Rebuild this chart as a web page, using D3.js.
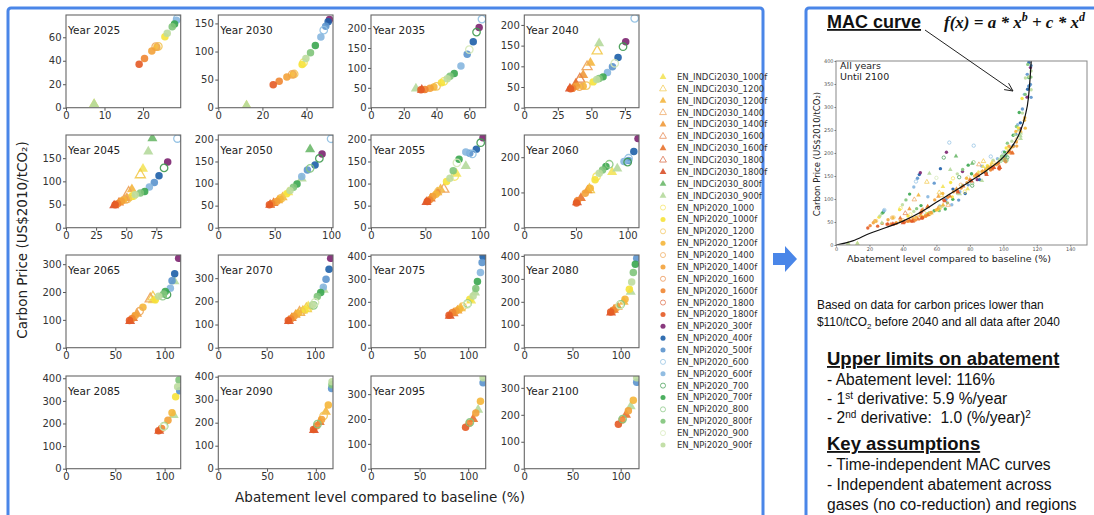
<!DOCTYPE html>
<html>
<head>
<meta charset="utf-8">
<script src="https://cdn.jsdelivr.net/npm/d3@7"></script>
<style>
  body { margin: 0; background: #fff; }
  svg { display: block; }
  text { white-space: pre; }
</style>
</head>
<body>
<div id="chart"></div>
<script>
const w = 1094;
const h = 515;

// panels, one per year
const years = [2025, 2030, 2035, 2040, 2045, 2050, 2055, 2060,
               2065, 2070, 2075, 2080, 2085, 2090, 2095, 2100];
const xMax = [29.8, 52, 70, 85.5, 95.2, 101.7, 105.5, 111,
              116.3, 118.6, 118, 119, 116.3, 117.6, 118, 119];
const yMax = [79, 165, 233, 224, 200, 210, 210, 263,
              333, 400, 404, 404, 410, 403, 373, 344];
const xTicks = [[0, 10, 20], [0, 20, 40], [0, 20, 40, 60], [0, 25, 50, 75],
                [0, 25, 50, 75], [0, 50, 100], [0, 50, 100], [0, 50, 100],
                [0, 50, 100], [0, 50, 100], [0, 50, 100], [0, 50, 100],
                [0, 50, 100], [0, 50, 100], [0, 50, 100], [0, 50, 100]];
const yTicks = [[0, 20, 40, 60], [0, 50, 100, 150], [0, 50, 100, 150, 200], [0, 50, 100, 150, 200],
                [0, 50, 100, 150], [0, 50, 100, 150, 200], [0, 50, 100, 150, 200], [0, 100, 200],
                [0, 100, 200, 300], [0, 100, 200, 300], [0, 100, 200, 300, 400], [0, 100, 200, 300, 400],
                [0, 100, 200, 300, 400], [0, 100, 200, 300, 400], [0, 100, 200, 300], [0, 100, 200, 300]];

// scenarios in legend order (I = EN_INDCi2030_, N = EN_NPi2020_)
const scenarioCodes = ['I1000f', 'I1200', 'I1200f', 'I1400', 'I1400f', 'I1600', 'I1600f', 'I1800', 'I1800f',
  'I800f', 'I900f', 'N1000', 'N1000f', 'N1200', 'N1200f', 'N1400', 'N1400f', 'N1600', 'N1600f',
  'N1800', 'N1800f', 'N300f', 'N400f', 'N500f', 'N600', 'N600f', 'N700', 'N700f', 'N800', 'N800f',
  'N900', 'N900f'];
const scenarioColors = ['#f3e35a', '#f2c94c', '#f4b63f', '#eda35a', '#f0993a', '#e58046', '#e8722d', '#d6653e', '#d9502a',
  '#6cb86a', '#b5d99c', '#f5e35f', '#f6e23a', '#f2c55a', '#f5b63a', '#eeaa5c', '#f3a23a', '#ec8e4a', '#ef8632',
  '#de6a45', '#e45a25', '#7c2470', '#1d5fa8', '#5b94cd', '#8ebfe2', '#86b6df', '#3f9a4f', '#3aa64f', '#86c680', '#80c47a',
  '#d5e9b8', '#bcdc9f'];

// [scenario, abatement %, carbon price]
const pts2025 = [['I1000f', 7.3, 3], ['I900f', 7.3, 3],
  ['N1800f', 19, 37], ['N1600f', 20.4, 42], ['N1400f', 22.3, 48.3], ['N1200f', 23.6, 51.5], ['N1400', 23.3, 52], ['N1200', 24, 52.3],
  ['N1000f', 25.7, 60.5], ['N900f', 26.3, 63.4], ['N800f', 27.6, 69], ['N700f', 28.2, 71.4], ['N600f', 28.7, 74.5], ['N600', 28.9, 76]];
const pts2030 = [['I1000f', 12.8, 3.6], ['I900f', 12.8, 3.6],
  ['N1800f', 24.9, 41], ['N1600f', 27.6, 47], ['N1400f', 31.1, 54.8], ['N1400', 33.5, 59.5], ['N1200f', 34, 59], ['N1200', 34.4, 60],
  ['N1000f', 38, 76.8], ['N1000', 38.6, 80], ['N900f', 39.7, 87.5], ['N800f', 41.8, 98], ['N700f', 44, 110.7], ['N600f', 46.5, 126],
  ['N600', 47.8, 138], ['N500f', 48.7, 145], ['N400f', 49.8, 153], ['N300f', 50.4, 157]];
const pts2035 = [['I900f', 27.4, 47.9], ['I1800f', 31, 45],
  ['N1800f', 30.5, 45.4], ['N1600f', 32.9, 46], ['N1400f', 36, 48.7], ['N1200f', 38.4, 52], ['N1200', 40, 53.8],
  ['N1000f', 43, 63], ['N1000', 44.5, 66.4], ['N900f', 46.5, 73], ['N800f', 48.2, 79], ['N700f', 50.8, 85.7], ['N600f', 54.9, 105],
  ['N500f', 58.7, 134.5], ['N900', 60, 146], ['N400f', 62.4, 166], ['N700', 64.4, 190], ['N300f', 66, 201.7], ['N600', 67.7, 222.7]];
const pts2040 = [['I1800f', 34, 46], ['I1600f', 38.4, 58.3], ['I1600', 41.4, 68.9], ['I1400f', 43.9, 78.6], ['I1400', 46.8, 98.8],
  ['I1200f', 49.3, 108.5], ['I1200', 54.3, 137], ['I900f', 55.8, 155.5],
  ['N1800f', 34.5, 45.5], ['N1600f', 36, 47], ['N1400f', 38.9, 51.8], ['N1400', 41, 51], ['N1200f', 43.9, 51.8], ['N1200', 46.3, 53.5],
  ['N1000f', 51.3, 62.4], ['N900f', 54, 68], ['N800f', 55.8, 70.5], ['N700f', 58.7, 74.5], ['N600f', 62, 85], ['N500f', 65.7, 98.8],
  ['N900', 67.4, 107], ['N400f', 69.9, 121.5], ['N700', 73.6, 147.4], ['N300f', 75.6, 159.6], ['N600', 82.3, 216]];
const pts2045 = [['I1800f', 40, 48], ['I1600f', 44, 54], ['I1400f', 50.5, 64], ['I1400', 52, 76], ['I1200f', 54.7, 83],
  ['I1200', 61.7, 114], ['I1000f', 63.9, 127], ['I900f', 68.3, 164], ['I800f', 71.7, 193],
  ['N1800f', 40.8, 49.5], ['N1600f', 42.8, 51.7], ['N1400f', 46, 57], ['N1200f', 47.8, 60.3], ['N1400', 49.5, 61], ['N1200', 51, 62],
  ['N1000f', 54.7, 67.5], ['N1000', 56, 69], ['N900f', 57.5, 71], ['N800f', 61.7, 74.7], ['N700f', 65.3, 78.2], ['N600f', 69.2, 87.6],
  ['N500f', 73.3, 97.6], ['N400f', 77.2, 112], ['N700', 81.4, 129], ['N300f', 84.4, 142], ['N600', 92.5, 192.4]];
const pts2050 = [['I1800f', 46, 52], ['I1600f', 49, 56], ['I1400f', 53, 62], ['I1200f', 57, 69], ['I1000f', 62, 80],
  ['I900f', 74, 111], ['I800f', 81.4, 177.4],
  ['N1800f', 45.3, 51.9], ['N1600f', 47.3, 54], ['N1400f', 51.8, 59.4], ['N1200f', 54.7, 64.7], ['N1200', 56, 67], ['N1000f', 60.7, 76.7],
  ['N900f', 63.6, 84], ['N800f', 66.6, 91.7], ['N700f', 69.8, 99.2], ['N600f', 74, 115.8], ['N500f', 79, 130.8], ['N800', 81.4, 134.6],
  ['N400f', 85.8, 142], ['N700', 89.6, 157], ['N300f', 92, 167], ['N600', 100, 201.5]];
const pts2055 = [['I1800f', 51, 58], ['I1600f', 55, 66], ['I1400f', 61, 80], ['I1200f', 64, 87], ['I1400', 67, 87],
  ['I1000f', 78.7, 122], ['I900f', 87.2, 139.8],
  ['N1800f', 51.8, 59.4], ['N1600f', 53.7, 63], ['N1400f', 56.8, 70.7], ['N1200f', 59.8, 76], ['N1200', 62, 82],
  ['N1000f', 69.5, 104.5], ['N900f', 72.6, 112], ['N1000', 77, 116], ['N800f', 75.6, 129], ['N900', 79, 147], ['N700f', 81, 155],
  ['N600f', 87.2, 171.4], ['N500f', 90.8, 168.4], ['N600', 93.2, 167], ['N400f', 96.9, 178], ['N700', 100.9, 192.5], ['N300f', 103, 203.7]];
const pts2060 = [['I1800f', 51, 72], ['I1600f', 54.8, 84], ['I1400f', 61.2, 105.7], ['I1200', 63, 108],
  ['I1000f', 85, 158], ['I900f', 90, 168],
  ['N1800f', 50.5, 69.8], ['N1600f', 51.5, 76.4], ['N1400f', 59, 98], ['N1200f', 63.8, 112], ['N1000f', 68.5, 136], ['N1000', 69.9, 145],
  ['N900f', 72.5, 154.7], ['N800f', 75.7, 164], ['N700f', 79, 173.6], ['N800', 82.2, 180], ['N600f', 96.5, 187.7],
  ['N700', 100, 186], ['N500f', 100.9, 190.6], ['N600', 100.9, 197], ['N400f', 106, 216], ['N300f', 110, 252.8]];
const pts2065 = [['I1800f', 65, 96], ['I1600f', 68, 106], ['I1400f', 72, 122], ['I1400', 85.4, 175], ['I1200', 88.1, 182],
  ['I1000f', 88, 170], ['I900f', 110, 238],
  ['N1800f', 64.4, 97.6], ['N1600f', 66.8, 103.6], ['N1400f', 70.2, 115.5], ['N1400', 74.6, 131], ['N1200f', 78, 145],
  ['N1000f', 90.5, 172.6], ['N900f', 93.9, 184.5], ['N800', 98, 185], ['N800f', 99, 193], ['N700f', 100.7, 202], ['N700', 102.4, 190.5],
  ['N600f', 105.8, 214], ['N500f', 107.5, 240.5], ['N400f', 110.2, 265.5], ['N300f', 114.2, 321.4]];
const pts2070 = [['I1800f', 73, 115], ['I1600f', 76, 128], ['I1400f', 80, 142], ['I1400', 84, 152], ['I1200f', 87.5, 160],
  ['I1200', 91, 168], ['I1000f', 93, 178.6], ['I900f', 109, 250],
  ['N1800f', 72.4, 117], ['N1600f', 74.8, 124], ['N1400f', 78.3, 135.7], ['N1200f', 82.8, 150], ['N1200', 86.2, 157],
  ['N1000f', 89.7, 164], ['N1000', 94, 175], ['N900f', 97.6, 185.7], ['N800', 98.5, 183], ['N900', 100, 195.7],
  ['N800f', 102.4, 221.4], ['N700f', 105.9, 238.6], ['N600f', 108.6, 261.4], ['N500f', 111.4, 295.7], ['N400f', 114.5, 338.6],
  ['N300f', 116.2, 385.7]];
const pts2075 = [['I1800f', 81, 139], ['I1600f', 85, 150], ['I1400f', 89, 162], ['I1200f', 92.5, 172], ['I1000f', 103, 205],
  ['I900f', 107, 240],
  ['N1800f', 80.3, 141], ['N1600f', 84, 153], ['N1400f', 87.4, 160], ['N1200f', 90.8, 167.5], ['N1200', 94.2, 179],
  ['N900', 99, 189], ['N800', 99.3, 192], ['N1000f', 101.7, 211], ['N900f', 105.1, 225.6], ['N800f', 107.8, 257.6],
  ['N700f', 109.5, 288], ['N600f', 112.6, 327.5], ['N500f', 114.3, 371], ['N400f', 115.3, 397]];
const pts2080 = [['I1800f', 90, 153], ['I1600f', 93, 165], ['I1400f', 97, 178], ['I1200f', 103, 200], ['I900f', 110.4, 243],
  ['N1800f', 89.6, 155.7], ['N1600f', 92.4, 163], ['N1400f', 95.8, 174.7], ['N900', 99, 186], ['N800', 100, 189],
  ['N1200f', 104.5, 211], ['N1000f', 109, 254.7], ['N900f', 111.4, 286.7], ['N800f', 113.1, 327.5], ['N700f', 115.2, 364],
  ['N500f', 116.6, 390]];
const pts2085 = [['I1800f', 94.5, 168], ['I900f', 109.2, 237],
  ['N1800f', 93.9, 167.4], ['N1600f', 97, 178], ['N900', 99, 186], ['N800', 99.5, 188], ['N1400f', 103.4, 214.8],
  ['N1200f', 107.5, 247], ['N1000f', 111.2, 318.5], ['N500f', 115.3, 345], ['N900f', 113.2, 363], ['N800f', 114.6, 392.6]];
const pts2090 = [['I1800f', 98, 168], ['I1600f', 104, 203], ['I1200f', 110.3, 247.5],
  ['N1800f', 97.6, 170], ['N1600f', 101, 187], ['N800', 101.7, 193.6], ['N1400f', 105.9, 214], ['N1200', 108, 230],
  ['N1200f', 112.8, 276.6], ['N500f', 116.2, 349], ['N800f', 116.5, 365], ['N900f', 116.6, 378.5]];
const pts2095 = [['I1600f', 105.1, 199.5], ['I900f', 110.2, 237],
  ['N1800f', 97.3, 167], ['N1600f', 101, 183], ['N800', 101.7, 186], ['N1400f', 107.8, 224], ['N1200f', 112.6, 271],
  ['N500f', 115.3, 346], ['N900f', 115.3, 366]];
const pts2100 = [['I1600f', 105.5, 200], ['I900f', 110.4, 231],
  ['N1800f', 97.6, 165], ['N1600f', 101.5, 181], ['N800', 102, 184], ['N1400f', 108, 215], ['N1200f', 113.1, 254],
  ['N500f', 116.6, 321], ['N900f', 116.6, 337.5]];
const panelPoints = [pts2025, pts2030, pts2035, pts2040, pts2045, pts2050, pts2055, pts2060,
                     pts2065, pts2070, pts2075, pts2080, pts2085, pts2090, pts2095, pts2100];

// fitted MAC curve
const macX = [0, 10, 20, 30, 40, 50, 60, 70, 80, 90, 100, 105, 110, 113, 115, 116.5, 117];
const macY = [0, 9, 25, 38, 52, 70, 93, 115, 138, 162, 191, 213, 246, 280, 320, 390, 420];

const blue = '#4a86e8';
const colLeft = [66, 218.3, 371, 524.3];
const rowTop = [15, 135, 255, 376];
const pw = 114.7;
const ph = 92.7;

function scenarioName(code) {
  return (code[0] === 'I' ? 'EN_INDCi2030_' : 'EN_NPi2020_') + code.slice(1);
}
const colorOf = {};
scenarioCodes.forEach((c, i) => colorOf[c] = scenarioColors[i]);

const svg = d3.select('#chart')
  .append('svg')
  .attr('width', w)
  .attr('height', h)
  .style('font-family', 'DejaVu Sans, sans-serif');

// draw one marker (triangle for INDCi, circle for NPi; hollow when no "f")
function marker(sel, code, size) {
  const tri = code[0] === 'I';
  const filled = code.endsWith('f');
  const col = colorOf[code];
  sel.append('path')
    .attr('d', d3.symbol(tri ? d3.symbolTriangle : d3.symbolCircle, size)())
    .attr('fill', filled ? col : 'none')
    .attr('stroke', filled ? 'none' : col)
    .attr('stroke-width', size > 20 ? 1.3 : 0.8)
    .attr('opacity', 0.9);
}

// frames and arrow
svg.append('rect')
  .attr('x', 8).attr('y', 8).attr('width', 755).attr('height', 540).attr('rx', 3)
  .attr('fill', 'none').attr('stroke', blue).attr('stroke-width', 3);
svg.append('rect')
  .attr('x', 806).attr('y', 8).attr('width', 300).attr('height', 540).attr('rx', 3)
  .attr('fill', 'none').attr('stroke', blue).attr('stroke-width', 3);
svg.append('path')
  .attr('d', 'M773,253 L785,253 L785,246 L797,259 L785,272 L785,265 L773,265 Z')
  .attr('fill', blue);

// year panels
years.forEach(function(yr, i) {
  const x0 = colLeft[i % 4];
  const y0 = rowTop[Math.floor(i / 4)];
  const xScale = d3.scaleLinear().domain([0, xMax[i]]).range([0, pw]);
  const yScale = d3.scaleLinear().domain([0, yMax[i]]).range([ph, 0]);
  const g = svg.append('g').attr('transform', 'translate(' + x0 + ',' + y0 + ')');

  g.append('clipPath').attr('id', 'clip' + yr)
    .append('rect').attr('width', pw).attr('height', ph);

  const pts = panelPoints[i].slice().sort(function(a, b) {
    return scenarioCodes.indexOf(a[0]) - scenarioCodes.indexOf(b[0]);
  });
  const marks = g.append('g').attr('clip-path', 'url(#clip' + yr + ')');
  pts.forEach(function(d) {
    const m = marks.append('g')
      .attr('transform', 'translate(' + xScale(d[1]) + ',' + yScale(d[2]) + ')');
    marker(m, d[0], 44);
  });

  const xAxis = d3.axisBottom(xScale).tickValues(xTicks[i]).tickSize(3).tickPadding(1.5);
  const yAxis = d3.axisLeft(yScale).tickValues(yTicks[i]).tickSize(3).tickPadding(1.5);
  const gx = g.append('g').attr('transform', 'translate(0,' + ph + ')').call(xAxis);
  const gy = g.append('g').call(yAxis);
  [gx, gy].forEach(function(a) {
    a.select('.domain').remove();
    a.selectAll('line').attr('stroke', '#555');
    a.selectAll('text').attr('fill', '#333').style('font-size', '10px').style('font-family', 'DejaVu Sans');
  });

  g.append('rect').attr('width', pw).attr('height', ph)
    .attr('fill', 'none').attr('stroke', '#666').attr('stroke-width', 1.1);
  g.append('text').attr('x', 2).attr('y', 19)
    .attr('font-size', 10.5).attr('fill', '#222')
    .text('Year ' + yr);
});

svg.append('text')
  .attr('transform', 'translate(27,240) rotate(-90)')
  .attr('text-anchor', 'middle')
  .attr('font-size', 13.5).attr('fill', '#222')
  .text('Carbon Price (US$2010/tCO₂)');
svg.append('text')
  .attr('x', 380).attr('y', 502)
  .attr('text-anchor', 'middle')
  .attr('font-size', 13.5).attr('fill', '#222')
  .text('Abatement level compared to baseline (%)');

// legend
const legend = svg.append('g').attr('transform', 'translate(663,77)');
scenarioCodes.forEach(function(c, i) {
  const row = legend.append('g').attr('transform', 'translate(0,' + (i * 11.87) + ')');
  marker(row, c, 20);
  row.append('text').attr('x', 14).attr('y', 3)
    .attr('font-size', 8.5).attr('fill', '#333')
    .text(scenarioName(c));
});

// right panel: inset with all years
const ix = d3.scaleLinear().domain([0, 150]).range([836, 1087]);
const iy = d3.scaleLinear().domain([0, 400]).range([245, 61]);
svg.append('clipPath').attr('id', 'clipInset')
  .append('rect').attr('x', 836).attr('y', 61).attr('width', 251).attr('height', 184);
const inset = svg.append('g').attr('clip-path', 'url(#clipInset)');
panelPoints.forEach(function(pts) {
  pts.forEach(function(d) {
    const m = inset.append('g').attr('transform', 'translate(' + ix(d[1]) + ',' + iy(d[2]) + ')');
    marker(m, d[0], 9);
  });
});
const macLine = d3.line()
  .x(function(d, i) { return ix(macX[i]); })
  .y(function(d, i) { return iy(macY[i]); })
  .curve(d3.curveMonotoneX);
inset.append('path')
  .attr('d', macLine(macX))
  .attr('fill', 'none').attr('stroke', '#111').attr('stroke-width', 1.2);
svg.append('rect').attr('x', 836).attr('y', 61).attr('width', 251).attr('height', 184)
  .attr('fill', 'none').attr('stroke', '#888').attr('stroke-width', 1);

const ixAxis = d3.axisBottom(ix).tickValues([0, 20, 40, 60, 80, 100, 120, 140]).tickSize(1.5).tickPadding(1);
const iyAxis = d3.axisLeft(iy).tickValues([0, 50, 100, 150, 200, 250, 300, 350, 400]).tickSize(1.5).tickPadding(1);
[svg.append('g').attr('transform', 'translate(0,245)').call(ixAxis),
 svg.append('g').attr('transform', 'translate(836,0)').call(iyAxis)].forEach(function(a) {
  a.select('.domain').remove();
  a.selectAll('line').attr('stroke', '#777');
  a.selectAll('text').attr('fill', '#555').style('font-size', '5px').style('font-family', 'DejaVu Sans');
});
svg.append('text').attr('x', 840).attr('y', 69).attr('font-size', 9.5).attr('fill', '#222').text('All years');
svg.append('text').attr('x', 840).attr('y', 80).attr('font-size', 9.5).attr('fill', '#222').text('Until 2100');
svg.append('text')
  .attr('transform', 'translate(820,154) rotate(-90)')
  .attr('text-anchor', 'middle')
  .attr('font-size', 8.5).attr('fill', '#222')
  .text('Carbon Price (US$2010/tCO₂)');
svg.append('text')
  .attr('x', 949).attr('y', 262)
  .attr('text-anchor', 'middle')
  .attr('font-size', 9.5).attr('fill', '#222')
  .text('Abatement level compared to baseline (%)');

// title, formula and pointer arrow
svg.append('text').attr('x', 827).attr('y', 28)
  .attr('font-family', 'Liberation Sans, Arial').attr('font-weight', 'bold').attr('font-size', 18)
  .attr('text-decoration', 'underline').attr('fill', '#111')
  .text('MAC curve');
const f = svg.append('text').attr('x', 944).attr('y', 28)
  .attr('font-family', 'Liberation Serif, serif').attr('font-weight', 'bold').attr('font-style', 'italic')
  .attr('font-size', 17).attr('fill', '#111');
f.append('tspan').text('f(x) = a * x');
f.append('tspan').attr('dy', -7).attr('font-size', 12).text('b');
f.append('tspan').attr('dy', 7).text(' + c * x');
f.append('tspan').attr('dy', -7).attr('font-size', 12).text('d');

const a0 = [925, 30], a1 = [1013, 91];
const ang = Math.atan2(a1[1] - a0[1], a1[0] - a0[0]);
svg.append('line').attr('x1', a0[0]).attr('y1', a0[1]).attr('x2', a1[0]).attr('y2', a1[1])
  .attr('stroke', '#222').attr('stroke-width', 1);
[-0.45, 0.45].forEach(function(da) {
  svg.append('line').attr('x1', a1[0]).attr('y1', a1[1])
    .attr('x2', a1[0] - 9 * Math.cos(ang + da)).attr('y2', a1[1] - 9 * Math.sin(ang + da))
    .attr('stroke', '#222').attr('stroke-width', 1);
});

// notes
const note = svg.append('g').attr('font-family', 'Liberation Sans, Arial').attr('fill', '#111');
note.append('text').attr('x', 817).attr('y', 309).attr('font-size', 11.9)
  .text('Based on data for carbon prices lower than');
const n2 = note.append('text').attr('x', 817).attr('y', 326).attr('font-size', 11.9);
n2.append('tspan').text('$110/tCO');
n2.append('tspan').attr('dy', 2.5).attr('font-size', 8).text('2');
n2.append('tspan').attr('dy', -2.5).text(' before 2040 and all data after 2040');

note.append('text').attr('x', 827).attr('y', 365).attr('font-size', 18.5).attr('font-weight', 'bold')
  .attr('text-decoration', 'underline').text('Upper limits on abatement');
note.append('text').attr('x', 827).attr('y', 385).attr('font-size', 15.6).text('- Abatement level: 116%');
const d1 = note.append('text').attr('x', 827).attr('y', 404).attr('font-size', 15.6);
d1.append('tspan').text('- 1');
d1.append('tspan').attr('dy', -5).attr('font-size', 10).text('st');
d1.append('tspan').attr('dy', 5).text(' derivative: 5.9 %/year');
const d2 = note.append('text').attr('x', 827).attr('y', 423).attr('font-size', 15.6);
d2.append('tspan').text('- 2');
d2.append('tspan').attr('dy', -5).attr('font-size', 10).text('nd');
d2.append('tspan').attr('dy', 5).text(' derivative:\u00a0 1.0 (%/year)');
d2.append('tspan').attr('dy', -5).attr('font-size', 10).text('2');

note.append('text').attr('x', 827).attr('y', 450).attr('font-size', 18.5).attr('font-weight', 'bold')
  .attr('text-decoration', 'underline').text('Key assumptions');
note.append('text').attr('x', 827).attr('y', 470).attr('font-size', 15.6).text('- Time-independent MAC curves');
note.append('text').attr('x', 827).attr('y', 490).attr('font-size', 15.6).text('- Independent abatement across');
note.append('text').attr('x', 827).attr('y', 510).attr('font-size', 15.6).text('gases (no co-reduction) and regions');
</script>
</body>
</html>
